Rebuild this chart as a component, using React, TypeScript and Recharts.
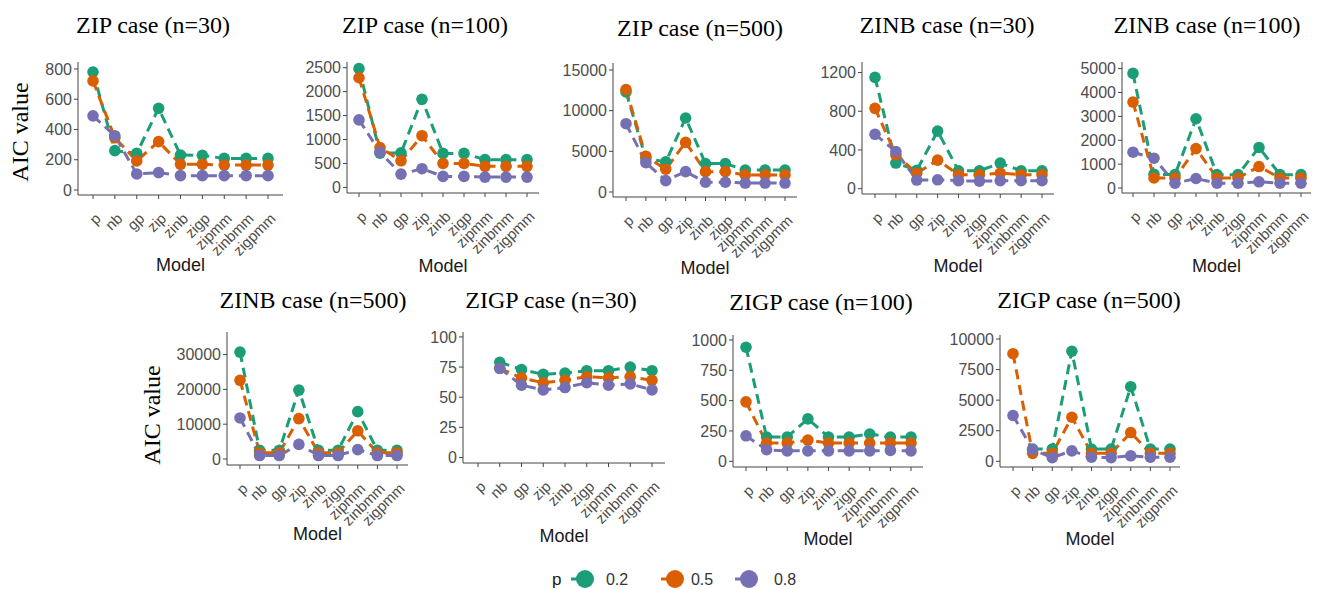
import { LineChart, Line, XAxis, YAxis } from "recharts";

const models = ["p", "nb", "gp", "zip", "zinb", "zigp", "zipmm", "zinbmm", "zigpmm"];
const pLevels = ["0.2", "0.5", "0.8"];
const colors = ["#1B9E77", "#D95F02", "#7570B3"];

// AIC values, one array per p level, in model order
const zip30_p2 = [780, 260, 243, 540, 231, 229, 209, 209, 209];
const zip30_p5 = [721, 345, 192, 320, 170, 170, 165, 165, 165];
const zip30_p8 = [490, 359, 106, 115, 95, 95, 95, 95, 95];

const zip100_p2 = [2480, 715, 720, 1840, 710, 710, 580, 580, 580];
const zip100_p5 = [2290, 833, 555, 1080, 500, 500, 440, 440, 440];
const zip100_p8 = [1410, 736, 278, 390, 230, 230, 215, 215, 215];

const zip500_p2 = [12300, 4100, 3700, 9100, 3500, 3500, 2700, 2700, 2700];
const zip500_p5 = [12600, 4400, 2800, 6100, 2500, 2500, 2100, 2100, 2100];
const zip500_p8 = [8400, 3600, 1400, 2500, 1200, 1200, 1100, 1100, 1100];

const zinb30_p2 = [1150, 265, 190, 595, 185, 185, 265, 185, 185];
const zinb30_p5 = [830, 350, 160, 295, 144, 144, 160, 144, 144];
const zinb30_p8 = [562, 384, 89, 92, 82, 78, 82, 82, 82];

const zinb100_p2 = [4800, 580, 560, 2900, 560, 560, 1700, 560, 560];
const zinb100_p5 = [3600, 420, 420, 1650, 420, 420, 900, 420, 420];
const zinb100_p8 = [1500, 1250, 200, 400, 200, 200, 260, 200, 200];

const zinb500_p2 = [30700, 2500, 2500, 19800, 2500, 2500, 13600, 2500, 2500];
const zinb500_p5 = [22600, 1800, 1800, 11600, 1800, 1800, 8100, 1800, 1800];
const zinb500_p8 = [11800, 1000, 1000, 4200, 1000, 1000, 2700, 1000, 1000];

const zigp30_p2 = [null, 79, 73, 69, 70, 72, 72, 75, 72];
const zigp30_p5 = [null, 74, 66, 62, 64, 67, 66, 67, 64];
const zigp30_p8 = [null, 74, 60, 56, 58, 62, 60, 61, 56];

const zigp100_p2 = [940, 200, 200, 350, 200, 200, 225, 200, 200];
const zigp100_p5 = [490, 150, 150, 175, 150, 150, 150, 150, 150];
const zigp100_p8 = [210, 95, 86, 86, 86, 86, 86, 90, 86];

const zigp500_p2 = [null, 1000, 1000, 9000, 1000, 1000, 6100, 1000, 1000];
const zigp500_p5 = [8800, 650, 650, 3600, 650, 650, 2350, 650, 650];
const zigp500_p8 = [3750, 950, 300, 850, 330, 300, 450, 330, 330];

const zip30Ticks = [0, 200, 400, 600, 800];
const zip100Ticks = [0, 500, 1000, 1500, 2000, 2500];
const zip500Ticks = [0, 5000, 10000, 15000];
const zinb30Ticks = [0, 400, 800, 1200];
const zinb100Ticks = [0, 1000, 2000, 3000, 4000, 5000];
const zinb500Ticks = [0, 10000, 20000, 30000];
const zigp30Ticks = [0, 25, 50, 75, 100];
const zigp100Ticks = [0, 250, 500, 750, 1000];
const zigp500Ticks = [0, 2500, 5000, 7500, 10000];

const SANS = "'Liberation Sans', Arial, sans-serif";
const SERIF = "'Liberation Serif', 'Times New Roman', serif";

// box = plot area in page pixels, pad = space before first / after last category
const panels = [
  { title: "ZIP case (n=30)", series: [zip30_p2, zip30_p5, zip30_p8], ticks: zip30Ticks, domain: [-33, 846],
    box: { left: 78, right: 283, top: 62, bottom: 195 }, pad: [15, 15], titleX: 153, titleY: 25, modelY: 265 },
  { title: "ZIP case (n=100)", series: [zip100_p2, zip100_p5, zip100_p8], ticks: zip100Ticks, domain: [-117, 2619],
    box: { left: 347, right: 539, top: 62, bottom: 193 }, pad: [12, 12], titleX: 425, titleY: 25, modelY: 266 },
  { title: "ZIP case (n=500)", series: [zip500_p2, zip500_p5, zip500_p8], ticks: zip500Ticks, domain: [-616, 15863],
    box: { left: 613, right: 797, top: 63, bottom: 197 }, pad: [13, 12], titleX: 700, titleY: 28, modelY: 268 },
  { title: "ZINB case (n=30)", series: [zinb30_p2, zinb30_p5, zinb30_p8], ticks: zinb30Ticks, domain: [-55, 1309],
    box: { left: 862, right: 1054, top: 62, bottom: 194 }, pad: [13, 12], titleX: 947, titleY: 25, modelY: 266 },
  { title: "ZINB case (n=100)", series: [zinb100_p2, zinb100_p5, zinb100_p8], ticks: zinb100Ticks, domain: [-208, 5277],
    box: { left: 1122, right: 1311, top: 62, bottom: 193 }, pad: [11, 10], titleX: 1207, titleY: 25, modelY: 266 },
  { title: "ZINB case (n=500)", series: [zinb500_p2, zinb500_p5, zinb500_p8], ticks: zinb500Ticks, domain: [-1719, 36476],
    box: { left: 227, right: 408, top: 332, bottom: 465 }, pad: [13, 11], titleX: 313, titleY: 300, modelY: 534 },
  { title: "ZIGP case (n=30)", series: [zigp30_p2, zigp30_p5, zigp30_p8], ticks: zigp30Ticks, domain: [-4.6, 104.1],
    box: { left: 463, right: 665, top: 332, bottom: 463 }, pad: [15, 13], titleX: 551, titleY: 300, modelY: 536 },
  { title: "ZIGP case (n=100)", series: [zigp100_p2, zigp100_p5, zigp100_p8], ticks: zigp100Ticks, domain: [-47, 1041],
    box: { left: 733, right: 923, top: 335, bottom: 467 }, pad: [13, 12], titleX: 821, titleY: 302, modelY: 539 },
  { title: "ZIGP case (n=500)", series: [zigp500_p2, zigp500_p5, zigp500_p8], ticks: zigp500Ticks, domain: [-467, 10328],
    box: { left: 1000, right: 1180, top: 335, bottom: 467 }, pad: [13, 10], titleX: 1089, titleY: 300, modelY: 539 },
];

const keys = ["s02", "s05", "s08"];

function XTick(props: any) {
  const { x, y, payload } = props;
  return (
    <g transform={`translate(${x + 1},${y + 11})`}>
      <text textAnchor="end" dy="0.71em" transform="rotate(-45)" fontSize={15} fill="#4D4D4D" fontFamily={SANS}>
        {payload.value}
      </text>
    </g>
  );
}

const makeDot = (color: string) => (props: any) => {
  const { cx, cy, index } = props;
  if (cx == null || cy == null || props.value == null) return <g key={index} />;
  return <circle key={index} cx={cx} cy={cy} r={5.8} fill={color} stroke="none" />;
};

function Panel({ cfg }: { cfg: any }) {
  const { left, right, top, bottom } = cfg.box;
  const yw = 70;
  const xh = 80;
  const mt = 12;
  const mr = 10;
  const w = right - left + yw + mr;
  const h = bottom - top + mt + xh;
  const data = models.map((m, i) => ({
    model: m,
    s02: cfg.series[0][i],
    s05: cfg.series[1][i],
    s08: cfg.series[2][i],
  }));
  return (
    <>
      <div style={{ position: "absolute", left: left - yw, top: top - mt, width: w, height: h }}>
        <LineChart width={w} height={h} data={data} margin={{ top: mt, right: mr, bottom: 0, left: 0 }}>
          <XAxis
            dataKey="model"
            scale="point"
            padding={{ left: cfg.pad[0], right: cfg.pad[1] }}
            height={xh}
            interval={0}
            tick={<XTick />}
            tickSize={4}
            axisLine={{ stroke: "#444" }}
            tickLine={{ stroke: "#444" }}
          />
          <YAxis
            type="number"
            width={yw}
            domain={cfg.domain}
            ticks={cfg.ticks}
            allowDataOverflow
            interval={0}
            tick={{ fontSize: 16, fill: "#4D4D4D", fontFamily: SANS }}
            tickSize={4}
            tickMargin={2}
            axisLine={{ stroke: "#444" }}
            tickLine={{ stroke: "#444" }}
          />
          {keys.map((k, j) => (
            <Line
              key={k}
              dataKey={k}
              stroke={colors[j]}
              strokeWidth={3}
              strokeDasharray="10 6"
              dot={makeDot(colors[j])}
              activeDot={false}
              isAnimationActive={false}
            />
          ))}
        </LineChart>
      </div>
      <div
        style={{
          position: "absolute", left: cfg.titleX, top: cfg.titleY, transform: "translate(-50%, -50%)",
          fontFamily: SERIF, fontSize: 24, color: "#000", whiteSpace: "nowrap",
        }}
      >
        {cfg.title}
      </div>
      <div
        style={{
          position: "absolute", left: (left + right) / 2, top: cfg.modelY, transform: "translate(-50%, -50%)",
          fontFamily: SANS, fontSize: 18, color: "#1a1a1a", whiteSpace: "nowrap",
        }}
      >
        Model
      </div>
    </>
  );
}

function YLabel({ x, y }: { x: number; y: number }) {
  return (
    <div
      style={{
        position: "absolute", left: x, top: y, transform: "translate(-50%, -50%) rotate(-90deg)",
        fontFamily: SERIF, fontSize: 24, color: "#000", whiteSpace: "nowrap",
      }}
    >
      AIC value
    </div>
  );
}

function Legend() {
  const dotX = [45, 135, 209];
  const labX = [77, 162, 245];
  return (
    <svg style={{ position: "absolute", left: 540, top: 562 }} width={280} height={32}>
      <text x={12} y={17} dy="0.35em" fontSize={17} fill="#1a1a1a" fontFamily={SANS}>p</text>
      {pLevels.map((lv, i) => (
        <g key={lv}>
          <line x1={dotX[i] - 14} x2={dotX[i] - 3} y1={17} y2={17} stroke={colors[i]} strokeWidth={3} />
          <circle cx={dotX[i]} cy={17} r={9} fill={colors[i]} />
          <text x={labX[i]} y={17} dy="0.35em" textAnchor="middle" fontSize={16} fill="#333" fontFamily={SANS}>{lv}</text>
        </g>
      ))}
    </svg>
  );
}

export default function App() {
  return (
    <div style={{ position: "absolute", left: 0, top: 0, width: 1318, height: 589, background: "#fff", overflow: "hidden" }}>
      {panels.map((cfg) => (
        <Panel key={cfg.title} cfg={cfg} />
      ))}
      <YLabel x={20} y={132} />
      <YLabel x={152} y={415} />
      <Legend />
    </div>
  );
}
